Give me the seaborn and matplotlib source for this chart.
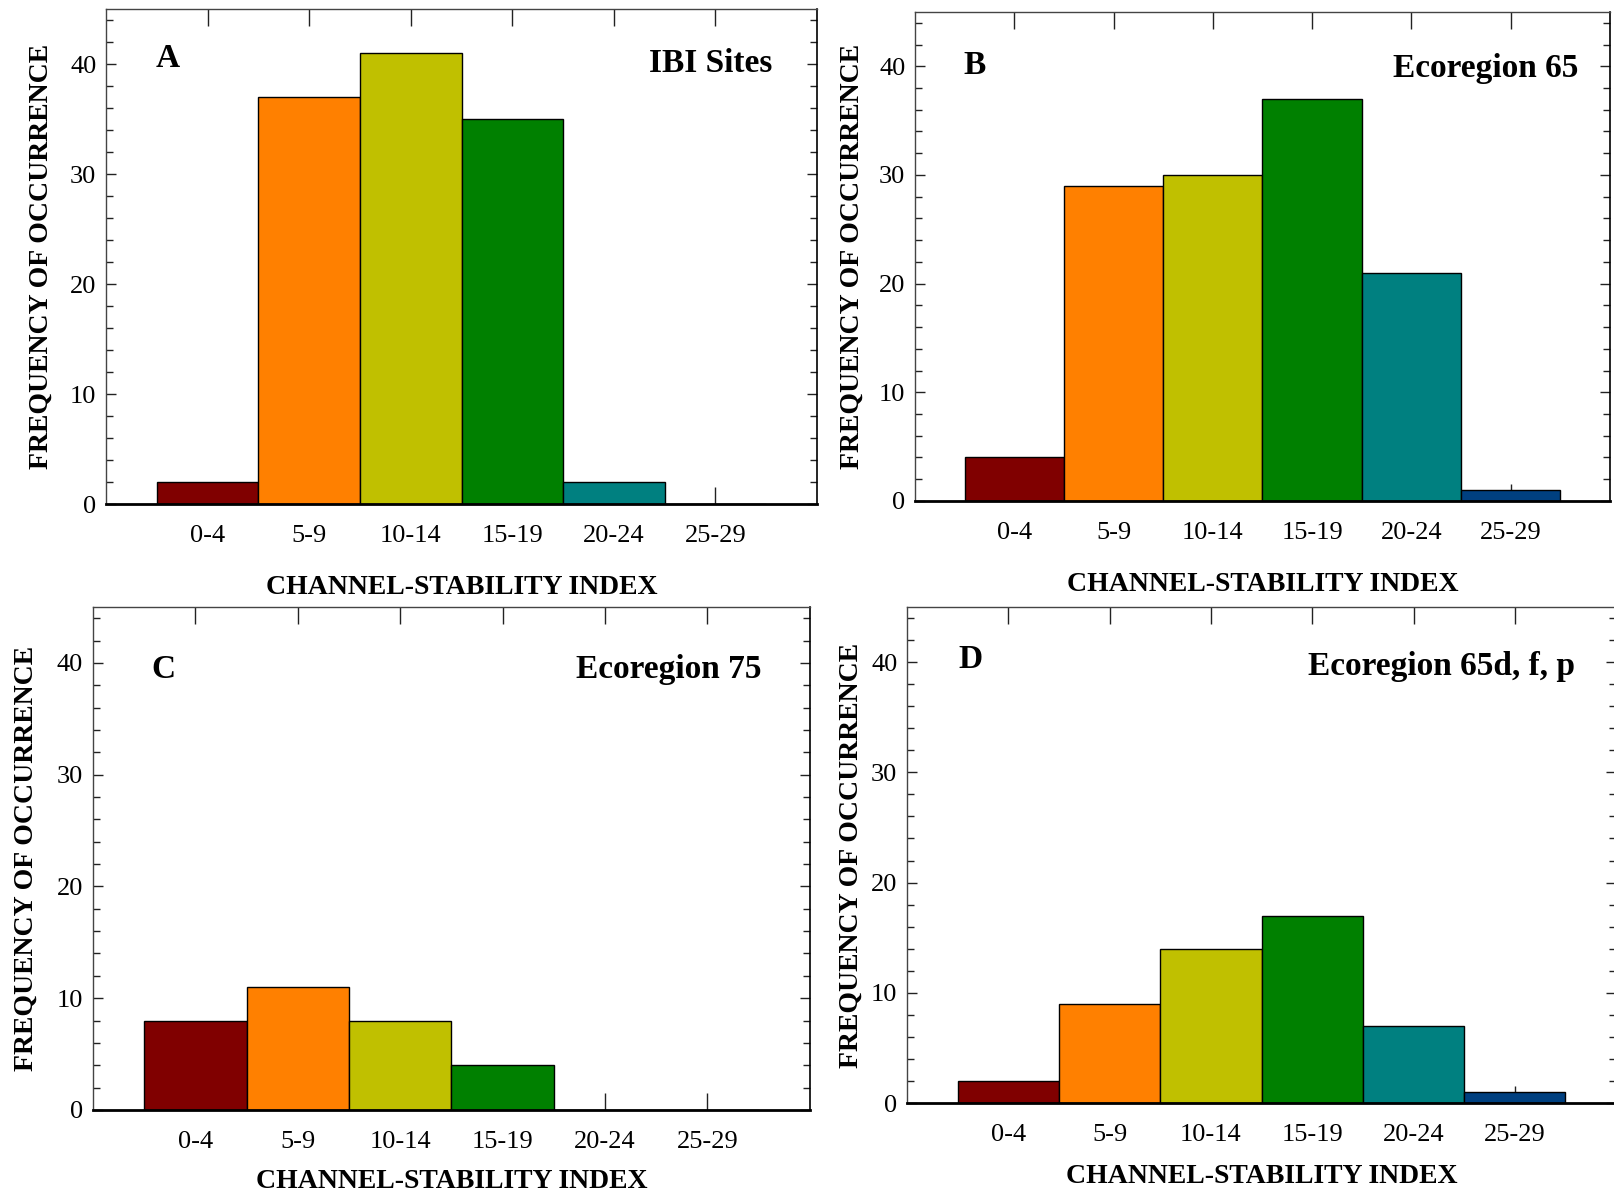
import matplotlib
matplotlib.use("Agg")
import matplotlib.pyplot as plt
from matplotlib.ticker import MultipleLocator
import seaborn as sns
import pandas as pd

sns.set_theme(style="white")
plt.rcParams["font.family"] = ["Liberation Serif", "DejaVu Serif"]
plt.rcParams["text.color"] = "black"
plt.rcParams["axes.labelcolor"] = "black"
plt.rcParams["xtick.color"] = "black"
plt.rcParams["ytick.color"] = "black"

# Channel-stability index classes
categories = ["0-4", "5-9", "10-14", "15-19", "20-24", "25-29"]

# Frequency of occurrence per class for each site group
ibi_sites = [2, 37, 41, 35, 2, 0]
ecoregion_65 = [4, 29, 30, 37, 21, 1]
ecoregion_75 = [8, 11, 8, 4, 0, 0]
ecoregion_65dfp = [2, 9, 14, 17, 7, 1]

panel_letters = ["A", "B", "C", "D"]
panel_titles = ["IBI Sites", "Ecoregion 65", "Ecoregion 75", "Ecoregion 65d, f, p"]
series = [ibi_sites, ecoregion_65, ecoregion_75, ecoregion_65dfp]

bar_colors = ["#800000", "#FF8000", "#C0C000", "#008000", "#008080", "#004080"]

# axes rectangles in figure fractions [left, bottom, width, height]
rects = [
    [0.0657, 0.5789, 0.4405, 0.4135],
    [0.5669, 0.5815, 0.4306, 0.4085],
    [0.0576, 0.0727, 0.4442, 0.4202],
    [0.5620, 0.0785, 0.4393, 0.4144],
]
letter_pos = [(0.07, 0.90), (0.07, 0.89), (0.082, 0.875), (0.072, 0.895)]
title_pos = [(0.937, 0.89), (0.954, 0.885), (0.933, 0.875), (0.942, 0.88)]
ylabel_pads = [12, 10, 13, 5]
xlabel_pads = [20, 20, 12, 13]

fig = plt.figure(figsize=(16.14, 11.97), dpi=100)

for i in range(4):
    ax = fig.add_axes(rects[i])
    df = pd.DataFrame({"index_class": categories, "frequency": series[i]})
    sns.barplot(data=df, x="index_class", y="frequency", hue="index_class",
                order=categories, hue_order=categories, palette=bar_colors,
                saturation=1, width=1.0, edgecolor="black", linewidth=1.0,
                legend=False, ax=ax, zorder=2)
    ax.set_xlim(-1, 6)
    ax.set_ylim(0, 45)
    ax.yaxis.set_major_locator(MultipleLocator(10))
    ax.yaxis.set_minor_locator(MultipleLocator(2))
    ax.tick_params(axis="x", which="major", direction="in", top=True, bottom=True,
                   length=12, width=1, labelsize=19, pad=15, color="#222222")
    ax.tick_params(axis="y", which="major", direction="in", left=True, right=True,
                   length=7, width=1, labelsize=19, pad=7, color="#222222")
    ax.tick_params(axis="y", which="minor", direction="in", left=True, right=True,
                   length=5, width=1, color="#222222")
    for side in ["left", "top"]:
        ax.spines[side].set_color("#444444")
        ax.spines[side].set_linewidth(1.0)
    ax.spines["right"].set_color("black")
    ax.spines["right"].set_linewidth(1.2)
    ax.spines["bottom"].set_color("black")
    ax.spines["bottom"].set_linewidth(2.0)
    ax.set_xlabel("CHANNEL-STABILITY INDEX", fontsize=20, fontweight="bold",
                  labelpad=xlabel_pads[i])
    ax.set_ylabel("FREQUENCY OF OCCURRENCE", fontsize=20, fontweight="bold",
                  labelpad=ylabel_pads[i])
    ax.text(letter_pos[i][0], letter_pos[i][1], panel_letters[i], transform=ax.transAxes,
            fontsize=24, fontweight="bold", ha="left", va="center")
    ax.text(title_pos[i][0], title_pos[i][1], panel_titles[i], transform=ax.transAxes,
            fontsize=24, fontweight="bold", ha="right", va="center")
    ax.grid(False)
    ax.set_facecolor("white")

fig.savefig("out.png", dpi=100, facecolor="white")
